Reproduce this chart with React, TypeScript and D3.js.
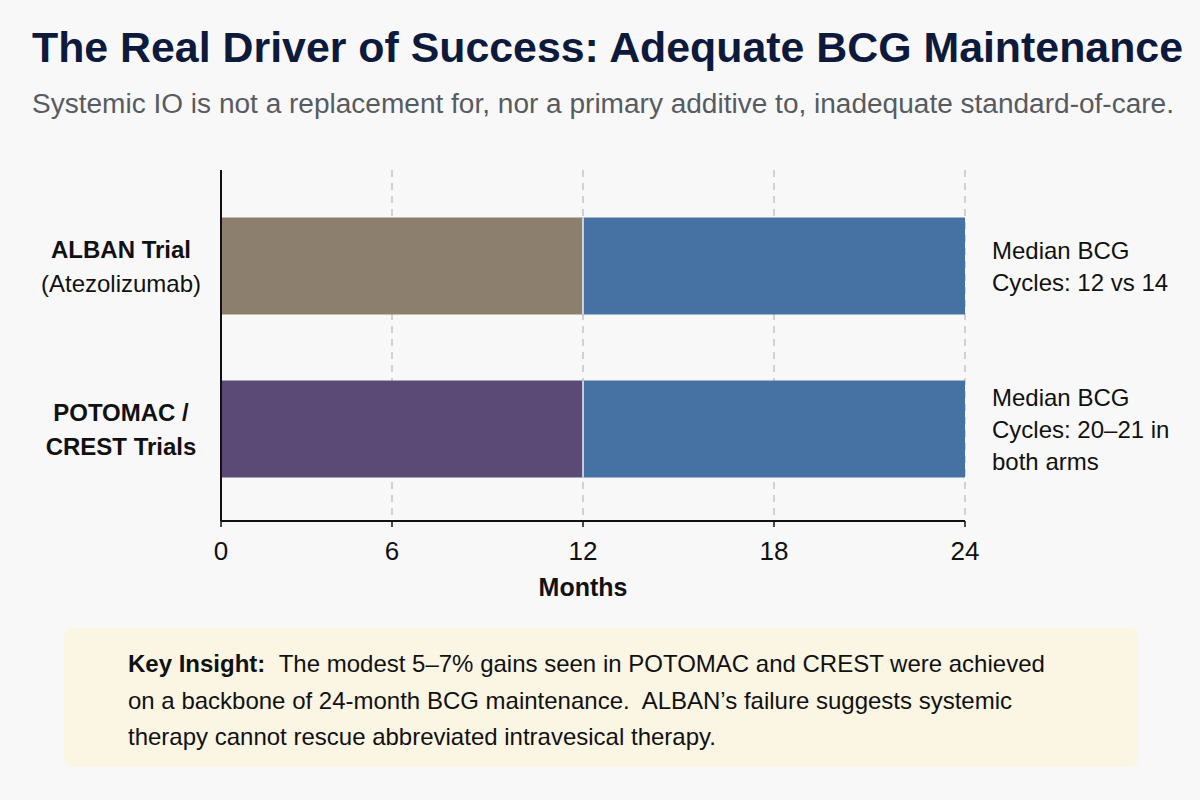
import * as d3 from "d3";

const trials = ["ALBAN", "POTOMAC"];
const trialLabels = [
  ["ALBAN Trial", "(Atezolizumab)"],
  ["POTOMAC /", "CREST Trials"],
];
const firstPhaseMonths = [12, 12];
const secondPhaseMonths = [12, 12];
const firstPhaseColors = ["#8d7f6d", "#5b4a76"];
const secondPhaseColor = "#4671a3";
const cycleNotes = [
  ["Median BCG", "Cycles: 12 vs 14"],
  ["Median BCG", "Cycles: 20\u201321 in", "both arms"],
];
const monthTicks = [0, 6, 12, 18, 24];

const W = 1200;
const H = 800;
const FONT = "'Liberation Sans', Arial, Helvetica, sans-serif";

export default function App() {
  // first 6 months are drawn slightly compressed
  const x = d3.scaleLinear().domain([0, 6, 24]).range([221, 392, 965]);
  const y = d3.scaleBand<string>().domain(trials).range([173, 522]).paddingInner(0.405).paddingOuter(0.273);
  const axisTop = 170;
  const axisY = 521;

  const rows = trials.map((t, i) => {
    const start = 0;
    const mid = start + firstPhaseMonths[i];
    const end = mid + secondPhaseMonths[i];
    return { t, i, start, mid, end };
  });

  // multi-line label block, vertically centred on a bar
  const lineStarts = (i: number, n: number, gap: number) => {
    const cy = y(trials[i])! + y.bandwidth() / 2;
    return cy - ((n - 1) * gap) / 2 + 9;
  };

  return (
    <svg width={W} height={H} style={{ position: "absolute", left: 0, top: 0, background: "#f8f8f8" }} fontFamily={FONT}>
      <rect width={W} height={H} fill="#f8f8f8" />
      <text x={32} y={62} fontSize={42} fontWeight={700} fill="#0e1a3c" textLength={1151} lengthAdjust="spacingAndGlyphs">
        The Real Driver of Success: Adequate BCG Maintenance
      </text>
      <text x={32} y={113} fontSize={27} fill="#575b61" textLength={1142} lengthAdjust="spacingAndGlyphs">
        Systemic IO is not a replacement for, nor a primary additive to, inadequate standard-of-care.
      </text>

      {/* dashed month gridlines */}
      {monthTicks.filter((m) => m > 0).map((m) => (
        <line key={m} x1={x(m)} x2={x(m)} y1={axisTop} y2={axisY} stroke="#b8b8b8" strokeWidth={1.2} strokeDasharray="7,6" />
      ))}

      {rows.map((r) => (
        <g key={r.t}>
          <rect x={x(r.start)} y={y(r.t)} width={x(r.mid) - x(r.start)} height={y.bandwidth()} fill={firstPhaseColors[r.i]} />
          <rect x={x(r.mid)} y={y(r.t)} width={x(r.end) - x(r.mid)} height={y.bandwidth()} fill={secondPhaseColor} />
          <line x1={x(r.mid)} x2={x(r.mid)} y1={y(r.t)} y2={y(r.t)! + y.bandwidth()} stroke="#eef0f4" strokeWidth={1.5} />
        </g>
      ))}

      {/* category labels */}
      {trialLabels.map((lines, i) => {
        const y0 = lineStarts(i, lines.length, 34);
        return (
          <text key={i} textAnchor="middle" fontSize={24} fill="#111">
            {lines.map((l, j) => (
              <tspan key={j} x={121} y={y0 + j * 34} fontWeight={i === 1 || j === 0 ? 700 : 400}>
                {l}
              </tspan>
            ))}
          </text>
        );
      })}

      {/* cycle annotations */}
      {cycleNotes.map((lines, i) => {
        const y0 = lineStarts(i, lines.length, 32);
        return (
          <text key={i} fontSize={24} fill="#111">
            {lines.map((l, j) => (
              <tspan key={j} x={992} y={y0 + j * 32}>
                {l}
              </tspan>
            ))}
          </text>
        );
      })}

      {/* axes */}
      <line x1={x(0)} x2={x(0)} y1={axisTop} y2={axisY} stroke="#111" strokeWidth={2} />
      <line x1={x(0)} x2={x(24)} y1={axisY} y2={axisY} stroke="#111" strokeWidth={2} />
      {monthTicks.map((m) => (
        <g key={m}>
          <line x1={x(m)} x2={x(m)} y1={axisY} y2={axisY + 6} stroke="#111" strokeWidth={1.5} />
          <text x={x(m)} y={560} textAnchor="middle" fontSize={26} fill="#111">
            {m}
          </text>
        </g>
      ))}
      <text x={x(12)} y={596} textAnchor="middle" fontSize={25} fontWeight={700} fill="#111">
        Months
      </text>

      {/* insight box */}
      <rect x={64} y={628} width={1074} height={139} rx={8} fill="#fbf5e4" />
      <text fontSize={24} fill="#111">
        <tspan x={128} y={672}>
          <tspan fontWeight={700}>Key Insight:</tspan>
          {"\u00a0\u00a0The modest 5\u20137% gains seen in POTOMAC and CREST were achieved"}
        </tspan>
        <tspan x={128} y={709}>
          {"on a backbone of 24-month BCG maintenance.\u00a0 ALBAN\u2019s failure suggests systemic"}
        </tspan>
        <tspan x={128} y={745}>therapy cannot rescue abbreviated intravesical therapy.</tspan>
      </text>
    </svg>
  );
}
